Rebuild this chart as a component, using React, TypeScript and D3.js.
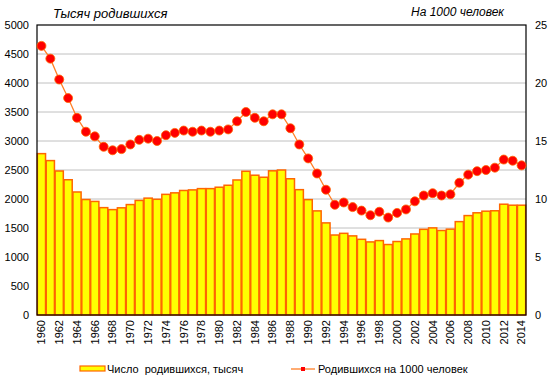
import React, { useEffect, useRef } from 'react';
import * as d3 from 'd3';

const years: number[] = d3.range(1960, 2015);

const births: number[] = [
  2782, 2662, 2483, 2332, 2121, 1991, 1958, 1851, 1817, 1848,
  1904, 1975, 2015, 1995, 2080, 2106, 2147, 2157, 2179, 2179,
  2203, 2237, 2328, 2478, 2410, 2375, 2486, 2500, 2349, 2161,
  1989, 1795, 1588, 1379, 1408, 1364, 1305, 1260, 1283, 1215,
  1267, 1312, 1397, 1477, 1502, 1457, 1480, 1610, 1714, 1762,
  1790, 1797, 1910, 1893, 1893,
];

const birthRate: number[] = [
  23.2, 22.1, 20.3, 18.7, 17.0, 15.8, 15.4, 14.5, 14.2, 14.3,
  14.7, 15.1, 15.2, 15.0, 15.5, 15.7, 15.9, 15.8, 15.9, 15.8,
  15.9, 16.0, 16.7, 17.5, 17.0, 16.7, 17.3, 17.3, 16.1, 14.7,
  13.5, 12.2, 10.8, 9.5, 9.7, 9.3, 9.0, 8.6, 8.9, 8.4,
  8.8, 9.1, 9.8, 10.3, 10.5, 10.3, 10.4, 11.4, 12.1, 12.4,
  12.5, 12.7, 13.4, 13.3, 12.9,
];

const leftTicks: number[] = d3.range(0, 5001, 500);
const rightTicks: number[] = [0, 5, 10, 15, 20, 25];

const titleLeft = 'Тысяч родившихся';
const titleRight = 'На 1000 человек';
const legendBars = 'Число  родившихся, тысяч';
const legendLine = 'Родившихся на 1000 человек';

export default function App() {
  const svgRef = useRef<SVGSVGElement>(null);

  useEffect(() => {
    const svg = d3.select(svgRef.current);
    svg.selectAll('*').remove();

    const width = 552;
    const height = 391;
    const left = 37;
    const right = 526;
    const top = 25;
    const bottom = 315;
    const font = 'Liberation Sans, Arial, sans-serif';

    svg.append('rect').attr('width', width).attr('height', height).attr('fill', '#fff');

    const x = d3.scaleBand<number>().domain(years).range([left, right]).paddingInner(0.08).paddingOuter(0.04);
    const yL = d3.scaleLinear().domain([0, 5000]).range([bottom, top]);
    const yR = d3.scaleLinear().domain([0, 25]).range([bottom, top]);

    // gridlines
    svg.append('g')
      .selectAll('line')
      .data(leftTicks.filter(d => d > 0 && d < 5000))
      .join('line')
      .attr('x1', left).attr('x2', right)
      .attr('y1', d => yL(d)).attr('y2', d => yL(d))
      .attr('stroke', '#c0c0c0').attr('stroke-width', 1);

    // bars
    svg.append('g')
      .selectAll('rect')
      .data(births)
      .join('rect')
      .attr('x', (d, i) => x(years[i])!)
      .attr('y', d => yL(d))
      .attr('width', x.bandwidth())
      .attr('height', d => bottom - yL(d))
      .attr('fill', '#ffff00')
      .attr('stroke', '#ff6600')
      .attr('stroke-width', 1.5);

    // frame
    svg.append('rect')
      .attr('x', left).attr('y', top)
      .attr('width', right - left).attr('height', bottom - top)
      .attr('fill', 'none').attr('stroke', '#000').attr('stroke-width', 1.2);

    // line
    const line = d3.line<number>()
      .x((d, i) => x(years[i])! + x.bandwidth() / 2)
      .y(d => yR(d));

    svg.append('path')
      .datum(birthRate)
      .attr('fill', 'none')
      .attr('stroke', '#ff7f27')
      .attr('stroke-width', 1.3)
      .attr('d', line);

    svg.append('g')
      .selectAll('circle')
      .data(birthRate)
      .join('circle')
      .attr('cx', (d, i) => x(years[i])! + x.bandwidth() / 2)
      .attr('cy', d => yR(d))
      .attr('r', 4.5)
      .attr('fill', '#ff0000')
      .attr('stroke', '#ff6600')
      .attr('stroke-width', 0.8);

    // left axis labels
    svg.append('g')
      .selectAll('text')
      .data(leftTicks)
      .join('text')
      .attr('x', 29)
      .attr('y', d => yL(d))
      .attr('dy', '0.35em')
      .attr('text-anchor', 'end')
      .attr('font-family', font)
      .attr('font-size', 11)
      .attr('fill', '#000')
      .text(d => d);

    // right axis labels
    svg.append('g')
      .selectAll('text')
      .data(rightTicks)
      .join('text')
      .attr('x', 535)
      .attr('y', d => yR(d))
      .attr('dy', '0.35em')
      .attr('text-anchor', 'start')
      .attr('font-family', font)
      .attr('font-size', 11)
      .attr('fill', '#000')
      .text(d => d);

    // x labels
    svg.append('g')
      .selectAll('text')
      .data(years.filter(d => d % 2 === 0))
      .join('text')
      .attr('transform', d => `translate(${x(d)! + x.bandwidth() / 2},${bottom + 5}) rotate(-90)`)
      .attr('dy', '0.35em')
      .attr('text-anchor', 'end')
      .attr('font-family', font)
      .attr('font-size', 11)
      .attr('fill', '#000')
      .text(d => d);

    // titles
    svg.append('text')
      .attr('x', 53).attr('y', 18)
      .attr('font-family', font).attr('font-size', 13).attr('font-style', 'italic')
      .text(titleLeft);
    svg.append('text')
      .attr('x', 411).attr('y', 16)
      .attr('font-family', font).attr('font-size', 12).attr('font-style', 'italic')
      .text(titleRight);

    // legend
    svg.append('rect')
      .attr('x', 80).attr('y', 366).attr('width', 25).attr('height', 5)
      .attr('fill', '#ffff00').attr('stroke', '#ff6600').attr('stroke-width', 1.2);
    svg.append('text')
      .attr('x', 107).attr('y', 373)
      .attr('font-family', font).attr('font-size', 11)
      .style('white-space', 'pre')
      .text(legendBars);
    svg.append('line')
      .attr('x1', 291).attr('x2', 315).attr('y1', 369).attr('y2', 369)
      .attr('stroke', '#ff7f27').attr('stroke-width', 1.3);
    svg.append('rect')
      .attr('x', 301).attr('y', 367).attr('width', 4).attr('height', 4)
      .attr('fill', '#ff0000');
    svg.append('text')
      .attr('x', 318).attr('y', 373)
      .attr('font-family', font).attr('font-size', 11)
      .text(legendLine);
  }, []);

  return (
    <svg ref={svgRef} width={552} height={391} style={{ position: 'absolute', left: 0, top: 0 }} />
  );
}
